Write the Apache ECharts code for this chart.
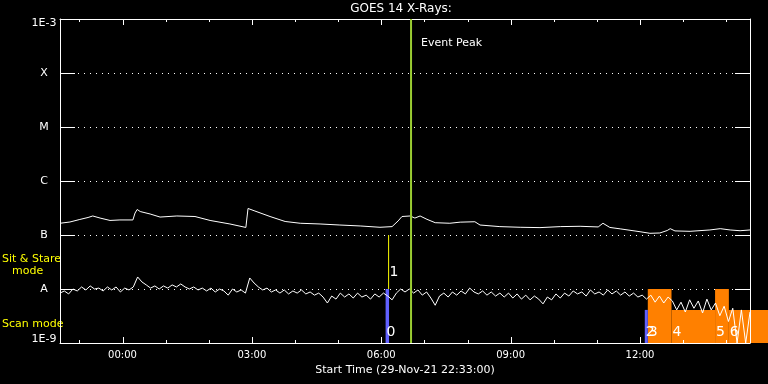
<!DOCTYPE html>
<html><head><meta charset="utf-8">
<script src="https://cdn.jsdelivr.net/npm/echarts@6/dist/echarts.min.js"></script>
<style>html,body{margin:0;padding:0;background:#000}#c{width:768px;height:384px}</style>
</head><body><div id="c"></div>
<script>
// ---- axis definitions (hours relative to 30-Nov-21 00:00 UT) ----
const startHour = -1.45;             // 22:33 on 29-Nov-21
const endHour = 14.55;
const majorTickHours = [0, 3, 6, 9, 12];
const majorTickLabels = ['00:00', '03:00', '06:00', '09:00', '12:00'];
const hourlyTicks = [-1, 0, 1, 2, 3, 4, 5, 6, 7, 8, 9, 10, 11, 12, 13, 14];
const levelExponents = [-9, -8, -7, -6, -5, -4, -3];
const levelNames = ['1E-9', 'A', 'B', 'C', 'M', 'X', '1E-3'];
const fluxMin = 1e-9, fluxMax = 1e-3;

// ---- long channel (1-8 A) ----
const longHours = [-1.45, -1.22, -0.99, -0.80, -0.69, -0.52, -0.29, -0.06, 0.24, 0.29, 0.34, 0.41, 0.64, 0.87,
  1.26, 1.68, 2.03, 2.49, 2.86, 2.91, 3.07, 3.42, 3.77, 4.12, 4.58, 5.04, 5.51, 5.97, 6.25, 6.39, 6.48, 6.67,
  6.78, 6.90, 7.06, 7.25, 7.59, 7.83, 8.17, 8.29, 8.75, 9.22, 9.68, 10.15, 10.61, 11.03, 11.14, 11.30, 11.54,
  12.00, 12.23, 12.46, 12.63, 12.70, 12.81, 13.16, 13.62, 13.86, 14.09, 14.32, 14.55];
const longFlux = [1.65e-7, 1.74e-7, 1.94e-7, 2.11e-7, 2.25e-7, 2.06e-7, 1.86e-7, 1.90e-7, 1.90e-7, 2.55e-7, 2.97e-7,
  2.72e-7, 2.45e-7, 2.15e-7, 2.25e-7, 2.20e-7, 1.86e-7, 1.60e-7, 1.38e-7, 3.10e-7, 2.78e-7, 2.20e-7, 1.78e-7,
  1.65e-7, 1.60e-7, 1.53e-7, 1.47e-7, 1.39e-7, 1.43e-7, 1.82e-7, 2.20e-7, 2.25e-7, 2.06e-7, 2.25e-7, 1.95e-7,
  1.69e-7, 1.65e-7, 1.73e-7, 1.76e-7, 1.53e-7, 1.43e-7, 1.39e-7, 1.37e-7, 1.43e-7, 1.45e-7, 1.41e-7, 1.65e-7,
  1.38e-7, 1.30e-7, 1.15e-7, 1.075e-7, 1.09e-7, 1.21e-7, 1.31e-7, 1.19e-7, 1.17e-7, 1.24e-7, 1.31e-7, 1.24e-7,
  1.20e-7, 1.24e-7];

// ---- short channel (0.5-4 A), 6-minute samples, in units of 1e-9 W/m^2 ----
const shortStartHour = -1.45;
const shortStepHours = 0.1;
const shortFluxNano = [
  8.4, 9.2, 8.1, 10, 9.2, 10.9, 9.6, 11.4, 10, 10.4,
  9.2, 10.9, 9.6, 10.9, 8.8, 10.4, 9.6, 10.9, 16.7, 13.5,
  11.9, 10.4, 11.4, 10, 11.4, 10.4, 11.9, 10.9, 12.4, 10.9,
  10, 10.9, 9.6, 10.4, 9.2, 10.4, 8.8, 10, 9.2, 7.7,
  10, 8.8, 9.6, 8.4, 16, 12.9, 10.9, 9.6, 10.4, 8.8,
  9.6, 8.4, 9.6, 8.1, 9.2, 8.4, 9.6, 8.1, 8.8, 7.7,
  8.4, 7.1, 5.5, 7.4, 6.5, 8.4, 7.1, 8.1, 6.8, 8.4,
  7.1, 7.7, 6.5, 8.1, 7.1, 8.4, 7.4, 6.3, 8.4, 10,
  8.8, 10, 8.4, 9.6, 7.7, 8.8, 6.8, 5.0, 7.4, 8.4,
  7.1, 8.8, 7.7, 9.2, 8.1, 10.4, 8.8, 8.1, 9.2, 7.7,
  8.8, 7.4, 8.4, 7.1, 8.4, 6.8, 8.1, 6.5, 7.7, 6.3,
  7.4, 6.5, 5.3, 7.1, 6.3, 8.1, 6.8, 8.4, 7.4, 9.2,
  8.1, 8.8, 7.4, 9.6, 8.1, 8.8, 7.7, 9.6, 8.1, 9.2,
  7.7, 8.8, 7.4, 8.4, 7.1, 7.7, 6.5, 7.7, 5.7, 7.4,
  5.5, 7.1, 6.0, 4.1, 5.7, 3.75, 6.3, 4.4, 6.0, 3.6,
  6.5, 4.1, 5.5, 3.2, 4.8, 2.5, 4.4, 1.0, 4.1, 1.0, 3.75];

// ---- observing modes / events ----
const blueStart = [6.10, 12.11];
const blueEnd = [6.18, 12.18];
const blueTop = [1e-8, 4.1e-9];
const orangeStart = [12.18, 12.73, 13.74, 14.06];
const orangeEnd = [12.73, 13.74, 14.06, 15.0];
const orangeTop = [1e-8, 4.1e-9, 1e-8, 4.1e-9];
const sitStareHour = 6.17;
const sitStareRange = [1e-8, 1e-7];
const eventHours = [6.10, 6.17, 12.11, 12.18, 12.73, 13.74, 14.06];
const eventLabels = ['0', '1', '2', '3', '4', '5', '6'];
const eventLabelFlux = [1.56e-9, 2.02e-8, 1.56e-9, 1.56e-9, 1.56e-9, 1.56e-9, 1.56e-9];
const peakHour = 6.69;
const peakLabel = 'Event Peak';
const peakLabelFlux = 3.6e-4;

// ---- styling ----
const W = '#ffffff';
const FF = 'DejaVu Sans';
const ORANGE = '#ff8000', BLUE = '#6060ff', YELLOW = '#ffff00', GREEN = '#9acd32';
const MAJOR_LEN = 6, MINOR_LEN = 3;

function hourLabel(v) { const i = majorTickHours.indexOf(v); return i >= 0 ? majorTickLabels[i] : ''; }
function levelLabel(v) {
  const e = Math.round(Math.log10(v));
  const i = levelExponents.indexOf(e);
  if (i < 0) return '';
  if (e === -3) return '{top|' + levelNames[i] + '}';
  if (e === -9) return '{bot|' + levelNames[i] + '}';
  return '{n|' + levelNames[i] + '}';
}

const longData = longHours.map((h, i) => [h, longFlux[i]]);
const shortData = shortFluxNano.map((v, i) => [+(shortStartHour + i * shortStepHours).toFixed(2), v * 1e-9]);
const blueData = blueStart.map((s, i) => [s, blueEnd[i], blueTop[i]]);
const orangeData = orangeStart.map((s, i) => [s, orangeEnd[i], orangeTop[i]]);
const tickData = hourlyTicks.map(h => [h, fluxMin]);

function blockRenderer(color) {
  return function (params, api) {
    const p0 = api.coord([api.value(0), api.value(2)]);
    const p1 = api.coord([api.value(1), fluxMin]);
    return { type: 'rect', shape: { x: p0[0], y: p0[1], width: p1[0] - p0[0], height: p1[1] - p0[1] },
      style: { fill: color } };
  };
}

function xAx(pos, showLabel, name) {
  return {
    type: 'value', position: pos, min: startHour, max: endHour, z: 3,
    name: name || '', nameLocation: 'middle', nameGap: 18,
    nameTextStyle: { color: W, fontFamily: FF, fontSize: 11 },
    axisLine: { show: true, onZero: false, lineStyle: { color: W, width: 1 } },
    axisTick: { show: false },
    axisLabel: { show: showLabel, customValues: majorTickHours, formatter: hourLabel, color: W,
      fontFamily: FF, fontSize: 10, margin: 7 },
    splitLine: { show: false }
  };
}

const richBase = { color: W, fontFamily: FF, fontSize: 11 };
const option = {
  backgroundColor: '#000',
  animation: false,
  grid: { left: 60, right: 18, top: 19, bottom: 41 },
  xAxis: [
    xAx('bottom', true, 'Start Time (29-Nov-21 22:33:00)'),
    xAx('top', false)
  ],
  yAxis: [
    { type: 'log', logBase: 10, position: 'left', min: fluxMin, max: fluxMax, interval: 1, z: 0,
      axisLine: { show: true, onZero: false, lineStyle: { color: W, width: 1 } },
      axisTick: { show: true, inside: true, length: 15, lineStyle: { color: W, width: 1 } },
      axisLabel: { color: W, fontFamily: FF, fontSize: 11, align: 'center', margin: 16, formatter: levelLabel,
        rich: { n: richBase, top: Object.assign({ padding: [8, 0, 0, 0] }, richBase),
          bot: Object.assign({ padding: [0, 0, 7, 0] }, richBase) } },
      splitLine: { show: true, lineStyle: { color: W, width: 1, type: [1, 5] } } },
    { type: 'log', logBase: 10, position: 'right', min: fluxMin, max: fluxMax, interval: 1, z: 3,
      axisLine: { show: true, onZero: false, lineStyle: { color: W, width: 1 } },
      axisTick: { show: true, inside: true, length: 15, lineStyle: { color: W, width: 1 } },
      axisLabel: { show: false }, splitLine: { show: false } }
  ],
  graphic: [
    { type: 'text', x: 401, y: 9, style: { text: 'GOES 14 X-Rays:', fill: W, font: '12px "DejaVu Sans"',
      textAlign: 'center', textVerticalAlign: 'middle', align: 'center', verticalAlign: 'middle' } },
    { type: 'text', x: 2, y: 259, style: { text: 'Sit & Stare', fill: YELLOW, font: '11px "DejaVu Sans"',
      textAlign: 'left', textVerticalAlign: 'middle', align: 'left', verticalAlign: 'middle' } },
    { type: 'text', x: 12, y: 271, style: { text: 'mode', fill: YELLOW, font: '11px "DejaVu Sans"',
      textAlign: 'left', textVerticalAlign: 'middle', align: 'left', verticalAlign: 'middle' } },
    { type: 'text', x: 2, y: 324, style: { text: 'Scan mode', fill: YELLOW, font: '11px "DejaVu Sans"',
      textAlign: 'left', textVerticalAlign: 'middle', align: 'left', verticalAlign: 'middle' } }
  ],
  series: [
    { type: 'custom', name: 'scan', xAxisIndex: 0, yAxisIndex: 0, z: 1, clip: false, silent: true,
      encode: { x: [0, 1], y: 2 }, data: orangeData, renderItem: blockRenderer(ORANGE) },
    { type: 'custom', name: 'blue', xAxisIndex: 0, yAxisIndex: 0, z: 1, clip: false, silent: true,
      encode: { x: [0, 1], y: 2 }, data: blueData, renderItem: blockRenderer(BLUE) },
    { type: 'line', name: 'long', xAxisIndex: 0, yAxisIndex: 0, z: 2, data: longData, showSymbol: false,
      symbol: 'none', silent: true, lineStyle: { color: W, width: 1 } },
    { type: 'line', name: 'short', xAxisIndex: 0, yAxisIndex: 0, z: 2, data: shortData, showSymbol: false,
      symbol: 'none', silent: true, lineStyle: { color: W, width: 1 } },
    { type: 'custom', name: 'timeTicks', xAxisIndex: 0, yAxisIndex: 0, z: 4, clip: false, silent: true,
      encode: { x: 0, y: 1 }, data: tickData,
      renderItem: function (params, api) {
        const h = api.value(0);
        const len = majorTickHours.indexOf(h) >= 0 ? MAJOR_LEN : MINOR_LEN;
        const b = api.coord([h, fluxMin]);
        const t = api.coord([h, fluxMax]);
        const x = Math.round(b[0]) + 0.5;
        return { type: 'group', children: [
          { type: 'line', shape: { x1: x, y1: Math.round(b[1]), x2: x, y2: Math.round(b[1]) - len },
            style: { stroke: W, lineWidth: 1 } },
          { type: 'line', shape: { x1: x, y1: Math.round(t[1]), x2: x, y2: Math.round(t[1]) + len },
            style: { stroke: W, lineWidth: 1 } }
        ] };
      } },
    { type: 'custom', name: 'sitstare', xAxisIndex: 0, yAxisIndex: 0, z: 3, clip: false, silent: true,
      encode: { x: 0, y: [1, 2] }, data: [[sitStareHour, sitStareRange[0], sitStareRange[1]]],
      renderItem: function (params, api) {
        const a = api.coord([api.value(0), api.value(1)]);
        const b = api.coord([api.value(0), api.value(2)]);
        return { type: 'line', shape: { x1: a[0], y1: a[1], x2: b[0], y2: b[1] },
          style: { stroke: YELLOW, lineWidth: 1 } };
      } },
    { type: 'custom', name: 'peak', xAxisIndex: 0, yAxisIndex: 0, z: 5, clip: false, silent: true,
      encode: { x: 0, y: 1 }, data: [[peakHour, peakLabelFlux]],
      renderItem: function (params, api) {
        const top = api.coord([api.value(0), fluxMax]);
        const bot = api.coord([api.value(0), fluxMin]);
        const lab = api.coord([api.value(0), api.value(1)]);
        return { type: 'group', children: [
          { type: 'line', shape: { x1: top[0], y1: top[1], x2: bot[0], y2: bot[1] },
            style: { stroke: GREEN, lineWidth: 2 } },
          { type: 'text', x: lab[0] + 10, y: lab[1], style: { text: peakLabel, fill: W, font: '11px "DejaVu Sans"',
            textAlign: 'left', textVerticalAlign: 'middle', align: 'left', verticalAlign: 'middle' } }
        ] };
      } },
    { type: 'custom', name: 'eventLabels', xAxisIndex: 0, yAxisIndex: 0, z: 6, clip: false, silent: true,
      encode: { x: 0, y: 1 }, data: eventHours.map((h, i) => [h, eventLabelFlux[i]]),
      renderItem: function (params, api) {
        const p = api.coord([api.value(0), api.value(1)]);
        return { type: 'text', x: p[0] + 1, y: p[1], style: { text: eventLabels[params.dataIndex], fill: W,
          font: '14px "DejaVu Sans"', textAlign: 'left', textVerticalAlign: 'middle', align: 'left',
          verticalAlign: 'middle' } };
      } }
  ]
};
const chart = echarts.init(document.getElementById('c'), null, { renderer: 'canvas' });
chart.setOption(option);
</script></body></html>
